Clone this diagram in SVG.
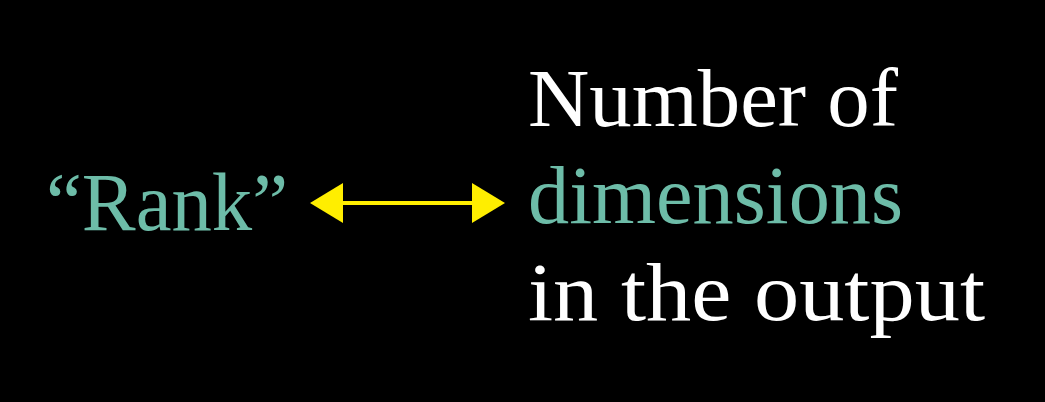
<svg xmlns="http://www.w3.org/2000/svg" width="1045" height="402" viewBox="0 0 1045 402">
<style>
.t{font-family:"Liberation Serif","DejaVu Serif",serif;font-size:82px}
.w{fill:#ffffff}
.c{fill:#6dbca8}
.arr{stroke:#ffee00;stroke-width:4;fill:none}
.head{fill:#ffee00}
</style>
<rect width="1045" height="402" fill="#000000"/>
<g id="rank">
<text class="t c" x="46" y="230" font-size="86" textLength="242" lengthAdjust="spacingAndGlyphs">“Rank”</text>
</g>
<g id="description">
<text class="t w" x="528" y="126" textLength="370" lengthAdjust="spacingAndGlyphs">Number of</text>
<text class="t c" x="528" y="223" textLength="375" lengthAdjust="spacingAndGlyphs">dimensions</text>
<text class="t w" x="528" y="320" textLength="457" lengthAdjust="spacingAndGlyphs">in the output</text>
</g>
<g id="connectors">
<line class="arr" x1="340" y1="203" x2="475" y2="203"/>
<polygon class="head" points="310,203 343,183 343,223"/>
<polygon class="head" points="505,203 472,183 472,223"/>
</g>
</svg>
